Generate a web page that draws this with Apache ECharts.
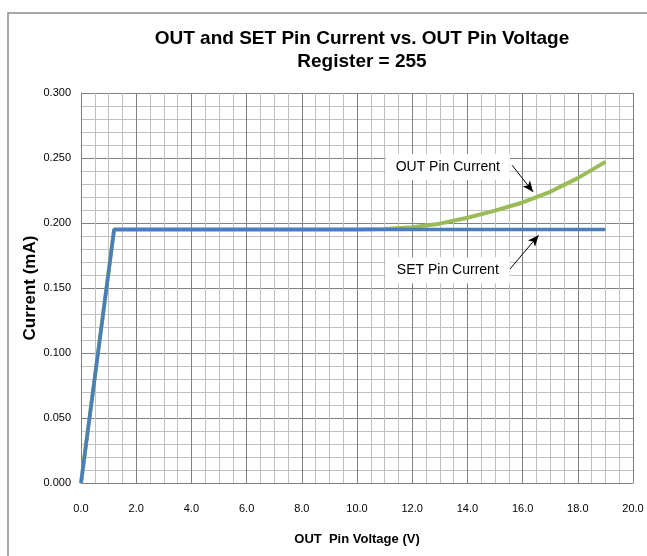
<!DOCTYPE html>
<html>
<head>
<meta charset="utf-8">
<script src="https://cdn.jsdelivr.net/npm/echarts@6/dist/echarts.min.js"></script>
<style>
html,body{margin:0;padding:0;background:#fff;}
#chart{width:647px;height:556px;}
</style>
</head>
<body>
<div id="chart"></div>
<script>
// ---- data ----
var titleLines = ['OUT and SET Pin Current vs. OUT Pin Voltage', 'Register = 255'];
var xAxisName = 'OUT  Pin Voltage (V)';
var yAxisName = 'Current (mA)';
var xTicks = [0, 2, 4, 6, 8, 10, 12, 14, 16, 18, 20];
var yTicks = [0, 0.05, 0.10, 0.15, 0.20, 0.25, 0.30];

var outVoltage = [0, 1.2, 10, 11, 12, 13, 14, 15, 16, 17, 18, 19];
var outCurrent = [0, 0.195, 0.1950, 0.1953, 0.1968, 0.1995, 0.2040, 0.2095, 0.2158, 0.2240, 0.2345, 0.2470];

var setVoltage = [0, 1.2, 19];
var setCurrent = [0, 0.195, 0.195];

var labelOut = 'OUT Pin Current';
var labelSet = 'SET Pin Current';
// annotation anchors in data units: [x, y]
var labelOutPos = [13.29, 0.2431];
var labelSetPos = [13.29, 0.1637];
var arrowOut = [[15.62, 0.2444], [16.38, 0.2239]];
var arrowSet = [[15.53, 0.1643], [16.58, 0.1906]];

function pairs(xs, ys) { return xs.map(function (x, i) { return [x, ys[i]]; }); }

var SANS = '"Liberation Sans", Arial, sans-serif';

var chart = echarts.init(document.getElementById('chart'), null, {renderer: 'canvas'});
chart.setOption({
  animation: false,
  backgroundColor: '#fff',
  graphic: [
    {type: 'rect', shape: {x: 8, y: 13, width: 700, height: 700}, style: {fill: 'none', stroke: '#8c8c8c', lineWidth: 1.5}, z: -1},
    {type: 'text', x: 362, y: 27, style: {text: titleLines.join('\n'), fontFamily: SANS, fontWeight: 'bold', fontSize: 19, lineHeight: 23, textAlign: 'center', fill: '#000'}}
  ],
  grid: {left: 81, right: 14, top: 93, bottom: 73, containLabel: false},
  xAxis: {
    type: 'value', min: 0, max: 20, interval: 2,
    name: xAxisName, nameLocation: 'middle', nameGap: 50,
    nameTextStyle: {fontFamily: SANS, fontWeight: 'bold', fontSize: 13, color: '#000'},
    axisLine: {show: true, lineStyle: {color: '#808080', width: 1}},
    axisTick: {show: false},
    axisLabel: {margin: 20, fontFamily: SANS, fontSize: 11, color: '#000', formatter: function (v) { return v.toFixed(1); }},
    splitLine: {show: true, lineStyle: {color: '#808080', width: 1}},
    minorTick: {show: false, splitNumber: 4},
    minorSplitLine: {show: true, lineStyle: {color: '#c0c0c0', width: 1}}
  },
  yAxis: {
    type: 'value', min: 0, max: 0.3, interval: 0.05,
    name: yAxisName, nameLocation: 'middle', nameGap: 42, nameRotate: 90,
    nameMoveOverlap: false,
    nameTextStyle: {fontFamily: SANS, fontWeight: 'bold', fontSize: 17, color: '#000'},
    axisLine: {show: true, lineStyle: {color: '#808080', width: 1}},
    axisTick: {show: false},
    axisLabel: {margin: 10, fontFamily: SANS, fontSize: 11, color: '#000', formatter: function (v) { return v.toFixed(3); }},
    splitLine: {show: true, lineStyle: {color: '#808080', width: 1}},
    minorTick: {show: false, splitNumber: 5},
    minorSplitLine: {show: true, lineStyle: {color: '#c0c0c0', width: 1}}
  },
  series: [
    {
      name: labelOut, type: 'line', data: pairs(outVoltage, outCurrent),
      showSymbol: false, smooth: false, z: 2,
      lineStyle: {color: '#9bbb59', width: 4}, itemStyle: {color: '#9bbb59'},
      markLine: {
        silent: true, symbol: ['none', 'arrow'], symbolSize: [7, 11],
        lineStyle: {color: '#000', width: 1, type: 'solid'}, label: {show: false},
        data: [
          [{coord: arrowOut[0]}, {coord: arrowOut[1]}],
          [{coord: arrowSet[0]}, {coord: arrowSet[1]}]
        ], z: 5
      },
      markPoint: {
        silent: true, symbol: 'rect', symbolSize: [124, 26],
        itemStyle: {color: '#fff'},
        label: {show: true, position: 'inside', color: '#000', fontFamily: SANS, fontSize: 14},
        data: [
          {coord: labelOutPos, value: labelOut, label: {formatter: labelOut}},
          {coord: labelSetPos, value: labelSet, label: {formatter: labelSet}}
        ], z: 5
      }
    },
    {
      name: labelSet, type: 'line', data: pairs(setVoltage, setCurrent),
      showSymbol: false, smooth: false, z: 3,
      lineStyle: {color: '#4a7ebb', width: 3.5}, itemStyle: {color: '#4a7ebb'}
    }
  ]
});
</script>
</body>
</html>
